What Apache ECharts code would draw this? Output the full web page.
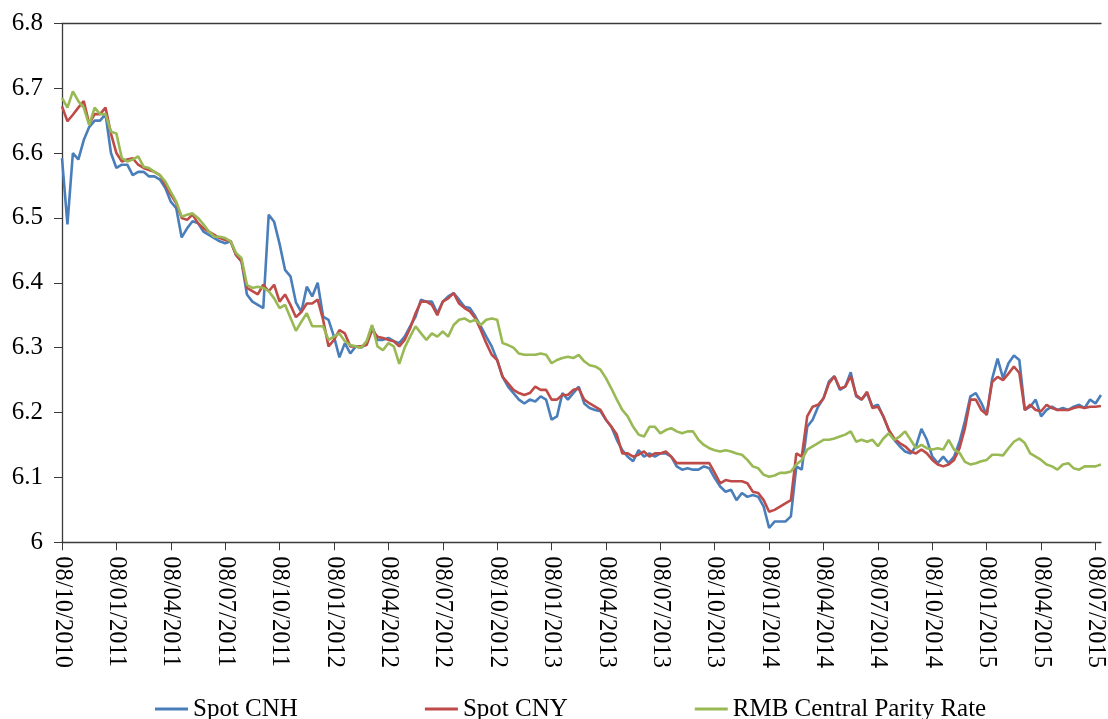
<!DOCTYPE html>
<html>
<head>
<meta charset="utf-8">
<script src="https://cdn.jsdelivr.net/npm/echarts@6/dist/echarts.min.js"></script>
<style>
html,body{margin:0;padding:0;background:#fff;}
#c{width:1108px;height:719px;}
</style>
</head>
<body>
<div id="c"></div>
<script>
var tickLabels = ['08/10/2010','08/01/2011','08/04/2011','08/07/2011','08/10/2011','08/01/2012','08/04/2012','08/07/2012','08/10/2012','08/01/2013','08/04/2013','08/07/2013','08/10/2013','08/01/2014','08/04/2014','08/07/2014','08/10/2014','08/01/2015','08/04/2015','08/07/2015'];
var pointsPerTick = 10;

var spotCNH = [6.592,6.49,6.60,6.59,6.62,6.64,6.65,6.65,6.66,6.60,
6.577,6.582,6.582,6.566,6.571,6.571,6.564,6.564,6.559,6.546,
6.525,6.515,6.47,6.484,6.495,6.492,6.479,6.474,6.469,6.464,
6.461,6.464,6.443,6.433,6.382,6.371,6.366,6.361,6.505,6.494,
6.46,6.42,6.41,6.37,6.355,6.394,6.379,6.40,6.348,6.343,
6.317,6.285,6.307,6.291,6.302,6.30,6.307,6.333,6.312,6.312,
6.315,6.31,6.307,6.317,6.333,6.348,6.374,6.371,6.371,6.353,
6.371,6.379,6.384,6.374,6.363,6.361,6.348,6.333,6.317,6.302,
6.281,6.255,6.24,6.23,6.22,6.214,6.22,6.217,6.225,6.22,
6.189,6.194,6.23,6.22,6.23,6.24,6.214,6.207,6.204,6.202,
6.189,6.178,6.158,6.142,6.132,6.125,6.142,6.132,6.137,6.132,
6.137,6.137,6.132,6.117,6.112,6.114,6.112,6.112,6.117,6.114,
6.099,6.086,6.078,6.081,6.065,6.076,6.07,6.073,6.07,6.055,
6.022,6.032,6.032,6.032,6.04,6.117,6.112,6.178,6.189,6.209,
6.222,6.248,6.256,6.235,6.24,6.262,6.225,6.22,6.23,6.209,
6.212,6.194,6.173,6.158,6.148,6.14,6.137,6.148,6.175,6.158,
6.132,6.122,6.132,6.122,6.132,6.155,6.187,6.225,6.23,6.215,
6.196,6.252,6.283,6.253,6.276,6.288,6.281,6.204,6.209,6.22,
6.194,6.204,6.209,6.204,6.207,6.204,6.209,6.212,6.207,6.22,
6.214,6.227];

var spotCNY = [6.672,6.649,6.659,6.67,6.68,6.645,6.66,6.66,6.67,6.63,
6.60,6.587,6.59,6.592,6.582,6.577,6.574,6.571,6.566,6.551,
6.536,6.523,6.50,6.497,6.505,6.492,6.484,6.479,6.474,6.469,
6.466,6.464,6.443,6.433,6.392,6.387,6.382,6.397,6.387,6.397,
6.371,6.382,6.366,6.347,6.355,6.368,6.368,6.374,6.343,6.302,
6.312,6.327,6.322,6.302,6.302,6.302,6.304,6.327,6.317,6.315,
6.312,6.31,6.302,6.312,6.33,6.353,6.371,6.371,6.366,6.35,
6.371,6.376,6.384,6.368,6.361,6.356,6.345,6.327,6.307,6.289,
6.281,6.255,6.245,6.235,6.23,6.227,6.23,6.24,6.235,6.235,
6.22,6.22,6.227,6.227,6.235,6.237,6.22,6.214,6.209,6.204,
6.189,6.178,6.166,6.137,6.137,6.132,6.135,6.14,6.132,6.137,
6.137,6.14,6.132,6.122,6.122,6.122,6.122,6.122,6.122,6.122,
6.107,6.091,6.096,6.094,6.094,6.094,6.091,6.078,6.076,6.065,
6.047,6.05,6.055,6.06,6.065,6.137,6.132,6.194,6.209,6.212,
6.222,6.245,6.256,6.237,6.24,6.256,6.227,6.22,6.232,6.207,
6.209,6.194,6.173,6.16,6.153,6.148,6.14,6.137,6.143,6.137,
6.127,6.12,6.117,6.12,6.127,6.145,6.176,6.22,6.22,6.204,
6.197,6.247,6.255,6.25,6.26,6.271,6.261,6.204,6.212,6.204,
6.202,6.212,6.207,6.204,6.204,6.204,6.207,6.209,6.207,6.209,
6.209,6.21];

var centralParity = [6.685,6.67,6.695,6.68,6.67,6.643,6.67,6.66,6.66,6.633,
6.63,6.592,6.587,6.59,6.595,6.579,6.577,6.571,6.566,6.556,
6.54,6.525,6.502,6.505,6.507,6.50,6.49,6.479,6.471,6.471,
6.469,6.464,6.446,6.438,6.397,6.392,6.394,6.392,6.387,6.376,
6.361,6.366,6.346,6.326,6.34,6.353,6.333,6.333,6.333,6.312,
6.317,6.322,6.31,6.304,6.302,6.30,6.31,6.335,6.302,6.296,
6.307,6.302,6.275,6.30,6.317,6.333,6.322,6.312,6.322,6.317,
6.325,6.317,6.335,6.343,6.345,6.34,6.343,6.335,6.343,6.345,
6.343,6.307,6.304,6.30,6.291,6.289,6.289,6.289,6.291,6.289,
6.276,6.281,6.284,6.286,6.284,6.289,6.279,6.273,6.271,6.266,
6.253,6.237,6.22,6.204,6.194,6.178,6.166,6.163,6.178,6.178,
6.168,6.173,6.176,6.171,6.168,6.171,6.171,6.158,6.15,6.145,
6.142,6.14,6.142,6.14,6.137,6.135,6.127,6.117,6.114,6.104,
6.101,6.103,6.107,6.107,6.109,6.12,6.127,6.143,6.148,6.153,
6.158,6.158,6.16,6.163,6.166,6.171,6.155,6.158,6.155,6.158,
6.148,6.16,6.168,6.158,6.163,6.171,6.158,6.145,6.15,6.145,
6.143,6.145,6.143,6.158,6.143,6.138,6.124,6.12,6.122,6.125,
6.127,6.135,6.135,6.134,6.145,6.155,6.16,6.153,6.137,6.132,
6.127,6.12,6.117,6.112,6.12,6.122,6.114,6.112,6.117,6.117,
6.117,6.12];

var categories = spotCNH.map(function (v, i) {
  return (i % pointsPerTick === 0 && tickLabels[i / pointsPerTick]) ? tickLabels[i / pointsPerTick] : String(i);
});

var font = '"Liberation Serif", "Times New Roman", serif';
var axisColor = '#3a3a3a';

var chart = echarts.init(document.getElementById('c'), null, {renderer: 'canvas'});
chart.setOption({
  animation: false,
  backgroundColor: '#fff',
  grid: {left: 62, top: 23.3, right: 0, bottom: 176.7, containLabel: false},
  legend: {
    left: 155, top: 696, itemGap: 127, padding: 0,
    itemWidth: 33, itemHeight: 3, icon: 'rect',
    textStyle: {fontFamily: font, fontSize: 25, color: '#000', lineHeight: 26},
    data: ['Spot CNH', 'Spot CNY', 'RMB Central Parity Rate']
  },
  xAxis: [{
    type: 'category',
    data: categories,
    boundaryGap: false,
    axisLine: {show: true, lineStyle: {color: axisColor, width: 1.3}},
    axisTick: {show: true, interval: pointsPerTick - 1, length: 8, inside: false, lineStyle: {color: axisColor}},
    axisLabel: {
      interval: pointsPerTick - 1, rotate: -90, margin: 14,
      fontFamily: font, fontSize: 24.5, color: '#000'
    },
    splitLine: {show: false}
  }, {
    type: 'category',
    data: categories,
    boundaryGap: false,
    position: 'top',
    axisLine: {show: true, lineStyle: {color: axisColor, width: 1.3}},
    axisTick: {show: false},
    axisLabel: {show: false},
    splitLine: {show: false}
  }],
  yAxis: {
    type: 'value',
    min: 6, max: 6.8, interval: 0.1,
    axisLine: {show: true, lineStyle: {color: axisColor, width: 1.3}},
    axisTick: {show: true, length: 8, inside: false, lineStyle: {color: axisColor}},
    axisLabel: {
      margin: 19, fontFamily: font, fontSize: 25, color: '#000',
      formatter: function (v) { return String(Math.round(v * 10) / 10); }
    },
    splitLine: {show: false}
  },
  series: [
    {name: 'Spot CNH', type: 'line', data: spotCNH, symbol: 'none', lineStyle: {color: '#4A7EBB', width: 2.6}, itemStyle: {color: '#4A7EBB'}},
    {name: 'Spot CNY', type: 'line', data: spotCNY, symbol: 'none', lineStyle: {color: '#BE4B48', width: 2.6}, itemStyle: {color: '#BE4B48'}},
    {name: 'RMB Central Parity Rate', type: 'line', data: centralParity, symbol: 'none', lineStyle: {color: '#98B954', width: 2.6}, itemStyle: {color: '#98B954'}}
  ]
});
</script>
</body>
</html>
